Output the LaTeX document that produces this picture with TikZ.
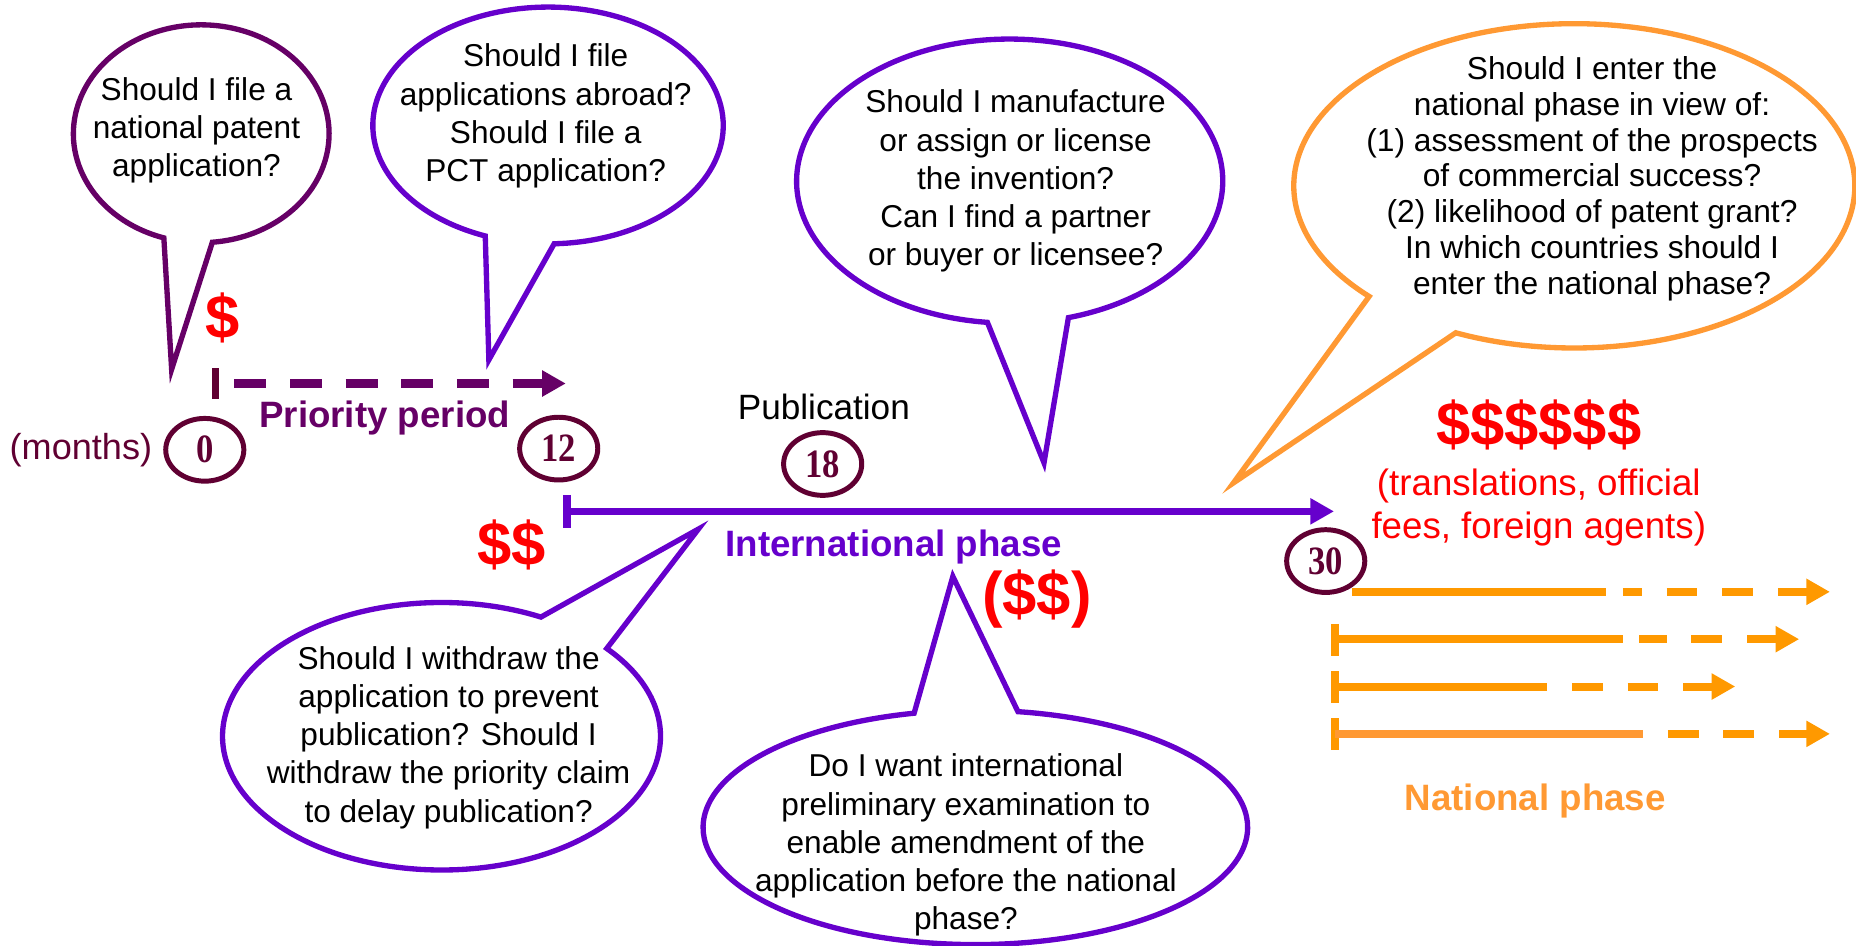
\documentclass[tikz,border=0pt]{standalone}
\usepackage{fontspec}
\setmainfont{Liberation Sans}
\newfontfamily\numfont[FakeStretch=0.86]{Liberation Serif}
\usetikzlibrary{shapes.geometric,arrows.meta}
\definecolor{plum}{RGB}{102,0,102}
\definecolor{maroon}{RGB}{96,0,50}
\definecolor{pviolet}{RGB}{102,0,204}
\definecolor{lorange}{RGB}{255,153,51}
\definecolor{dorange}{RGB}{255,153,0}
\definecolor{cashred}{RGB}{255,0,0}
\tikzset{
  bubble/.style={line width=4.5pt, fill=white, line join=miter},
  bubbletext/.style={font=\fontsize{26.7}{32.3}\selectfont, align=center, inner sep=0pt},
  month/.style={ellipse, draw=maroon, line width=4.2pt, minimum width=66pt, minimum height=53pt,
    inner sep=0pt, text=maroon, font=\numfont\bfseries\fontsize{34}{34}\selectfont},
  cash/.style={text=cashred, inner sep=0pt, font=\bfseries\fontsize{52}{52}\selectfont},
  phase/.style={inner sep=0pt, font=\bfseries\fontsize{31}{31}\selectfont},
  tick/.style={line width=6.5pt},
  orangeline/.style={dorange, line width=6.8pt},
  head/.style={-{Triangle[length=20pt,width=21pt]}},
}
\begin{document}
\begin{tikzpicture}[x=1pt,y=1pt,yscale=-1]
\useasboundingbox (0,0) rectangle (1568,799);

% speech bubbles: ellipse outline joined to a pointed tail
\draw[bubble, draw=plum] (170,113) ++(107:108 and 92)
  arc[start angle=107, end angle=445, x radius=108, y radius=92] -- (145,312) -- cycle;
\draw[bubble, draw=pviolet] (463,106) ++(111:148 and 100)
  arc[start angle=111, end angle=448, x radius=148, y radius=100] -- (413,304) -- cycle;
\draw[bubble, draw=pviolet] (853,153) ++(96:180 and 120)
  arc[start angle=96, end angle=434, x radius=180, y radius=120] -- (882,391) -- cycle;
\draw[bubble, draw=lorange] (1330,157) ++(137:237 and 137)
  arc[start angle=137, end angle=475, x radius=237, y radius=137] -- (1042,408) -- cycle;
\draw[bubble, draw=pviolet] (373,622) ++(-41:185 and 113)
  arc[start angle=-41, end angle=297, x radius=185, y radius=113] -- (590,447) -- cycle;
\draw[bubble, draw=pviolet] (824,699) ++(-81:230 and 99)
  arc[start angle=-81, end angle=257, x radius=230, y radius=99] -- (805,487) -- cycle;

% bubble texts
\node[bubbletext] (q1) at (166,110) {Should I file a\\national patent\\application?};
\node[bubbletext] (q2) at (461,98) {Should I file\\applications abroad?\\Should I file a\\PCT application?};
\node[bubbletext] (q3) at (858,153) {Should I manufacture\\or assign or license\\the invention?\\Can I find a partner\\or buyer or licensee?};
\node[bubbletext, font=\fontsize{26.8}{30.3}\selectfont] (q4) at (1345,151)
  {Should I enter the\\national phase in view of:\\(1) assessment of the prospects\\of commercial success?\\(2) likelihood of patent grant?\\In which countries should I\\enter the national phase?};
\node[bubbletext] (q5) at (379,623) {Should I withdraw the\\application to prevent\\publication? Should I\\withdraw the priority claim\\to delay publication?};
\node[bubbletext] (q6) at (816,714) {Do I want international\\preliminary examination to\\enable amendment of the\\application before the national\\phase?};

% month markers
\node[anchor=west, inner sep=0pt, text=maroon, font=\fontsize{30.5}{30.5}\selectfont] (months) at (8,380) {(months)};
\node[month] (m0) at (173,380) {0};
\node[month] (m12) at (472,379) {12};
\node[month] (m18) at (695,392) {18};
\node[month] (m30) at (1120,474) {30};
\node[inner sep=0pt, font=\fontsize{29.7}{29.7}\selectfont] (pub) at (696,344) {Publication};

% priority period
\coordinate (p0a) at (182,311);
\coordinate (p0b) at (182,337);
\coordinate (pstart) at (198,324);
\coordinate (pend) at (478,324);
\draw[tick, maroon] (p0a) -- (p0b);
\draw[plum, line width=6.8pt, dash pattern=on 27pt off 20pt, head] (pstart) -- (pend);
\node[phase, text=plum] (prio) at (325,353) {Priority period};

% international phase
\coordinate (i0a) at (479,418);
\coordinate (i0b) at (479,446);
\coordinate (istart) at (479,432);
\coordinate (iend) at (1127,432);
\draw[tick, pviolet] (i0a) -- (i0b);
\draw[pviolet, line width=6.5pt, head] (istart) -- (iend);
\node[phase, text=pviolet] (intl) at (755,462) {International phase};

% costs
\node[cash] (c1) at (188,269) {\$};
\node[cash] (c2) at (432,460) {\$\$};
\node[cash] (c3) at (876,506) {(\$\$)};
\node[cash] (c4) at (1300,359) {\$\$\$\$\$\$};
\node[inner sep=0pt, align=center, text=cashred, font=\fontsize{31}{36.5}\selectfont] (fees) at (1300,429)
  {(translations, official\\fees, foreign agents)};

% national phase lines
\coordinate (n1s) at (1142,500); \coordinate (n1m) at (1357,500);
\coordinate (n1d) at (1371,500); \coordinate (n1e) at (1546,500);
\draw[orangeline] (n1s) -- (n1m);
\draw[orangeline, dash pattern=on 26pt off 21pt, dash phase=10pt, head] (n1d) -- (n1e);

\coordinate (n2t) at (1128,540); \coordinate (n2m) at (1371,540);
\coordinate (n2d) at (1385,540); \coordinate (n2e) at (1520,540);
\draw[tick, dorange] (1128,527) -- (1128,554);
\draw[orangeline] (n2t) -- (n2m);
\draw[orangeline, dash pattern=on 26pt off 21pt, dash phase=3pt, head] (n2d) -- (n2e);

\coordinate (n3t) at (1128,580); \coordinate (n3m) at (1307,580);
\coordinate (n3d) at (1328,580); \coordinate (n3e) at (1466,580);
\draw[tick, dorange] (1128,567) -- (1128,594);
\draw[orangeline] (n3t) -- (n3m);
\draw[orangeline, dash pattern=on 26pt off 21pt, head] (n3d) -- (n3e);

\coordinate (n4t) at (1128,620); \coordinate (n4m) at (1388,620);
\coordinate (n4d) at (1409,620); \coordinate (n4e) at (1546,620);
\draw[tick, dorange] (1128,607) -- (1128,634);
\draw[orangeline, lorange] (n4t) -- (n4m);
\draw[orangeline, dash pattern=on 26pt off 21pt, head] (n4d) -- (n4e);

\node[phase, text=lorange] (natl) at (1297,677) {National phase};
\end{tikzpicture}
\end{document}
